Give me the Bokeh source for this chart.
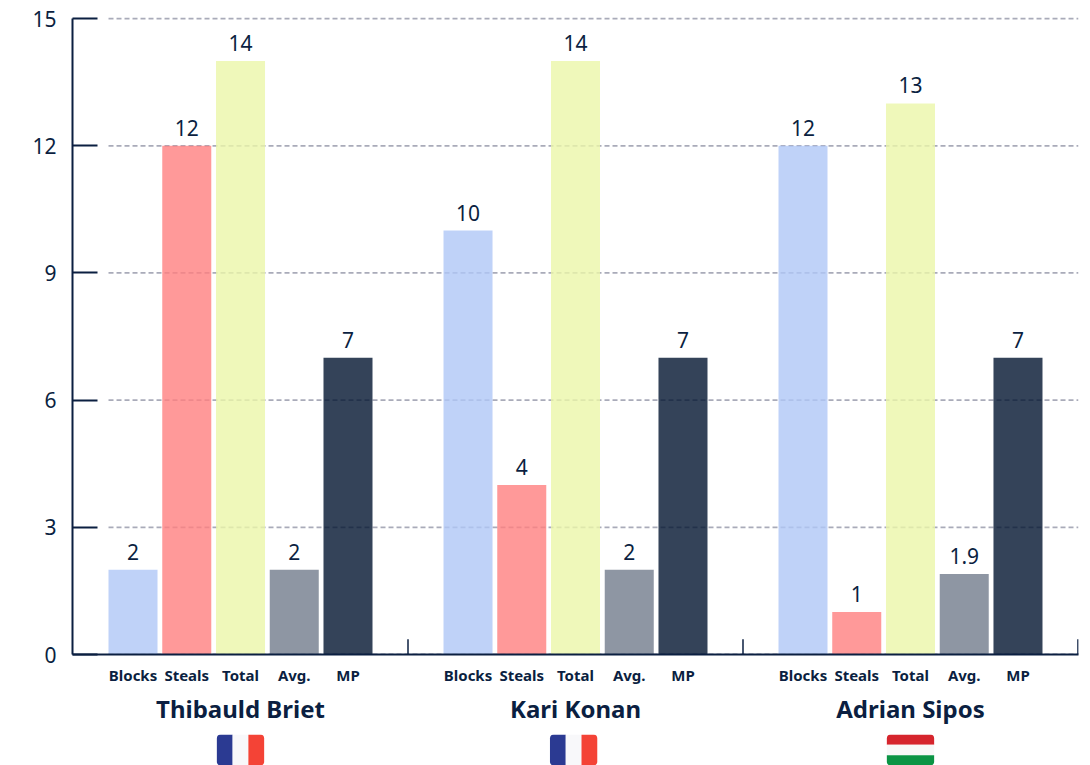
from bokeh.plotting import figure
from bokeh.models import FactorRange, ColumnDataSource
from bokeh.layouts import column
from bokeh.core.properties import value
from bokeh.embed import file_html
from bokeh.resources import INLINE

players = ["Thibauld Briet", "Kari Konan", "Adrian Sipos"]
metrics = ["Blocks", "Steals", "Total", "Avg.", "MP"]
blocks = [2, 10, 12]
steals = [12, 4, 1]
total = [14, 14, 13]
avg = [2, 2, 1.9]
mp = [7, 7, 7]
y_ticks = [0, 3, 6, 9, 12, 15]
metric_colors = ["#afc7f6", "#ff8080", "#ebf6a9", "#727c8c", "#011430"]

INK = "#0b1f41"
FONT = "Noto Sans"

series = [blocks, steals, total, avg, mp]
x, top, color, label = [], [], [], []
for pi, pl in enumerate(players):
    for mi, m in enumerate(metrics):
        x.append((pl, m))
        top.append(series[mi][pi])
        color.append(metric_colors[mi])
        label.append(str(series[mi][pi]))
src = ColumnDataSource(dict(x=x, top=top, color=color, label=label))

GP = 1.233
xr = FactorRange(*x, factor_padding=0, group_padding=GP, subgroup_padding=0,
                 range_padding=0.626, range_padding_units="absolute")
p = figure(x_range=xr, y_range=(0, 15.05), width=1090, height=734,
           output_backend="svg", toolbar_location=None,
           min_border_left=72, min_border_right=12, min_border_top=16, min_border_bottom=80)
p.outline_line_color = None
p.xgrid.visible = False
p.ygrid.visible = False

# dashed rules run from the first bar to the right edge
rule_x0 = [(players[0], metrics[0], -0.456)] * len(y_ticks)
rule_x1 = [(players[-1], metrics[-1], 1.126)] * len(y_ticks)
p.segment(x0=rule_x0, x1=rule_x1, y0=y_ticks, y1=y_ticks,
          line_color="#a9abb9", line_width=1.8, line_dash="5 3")

p.vbar(x="x", top="top", width=0.912, bottom=0, source=src,
       fill_color="color", fill_alpha=0.8, line_color=None)
p.text(x="x", y="top", text="label", source=src, text_align="center",
       text_baseline="middle", y_offset=-18, text_color=INK,
       text_font=value(FONT), text_font_size="21px")

# upward ticks at the group edges
sep_x = [(pl, metrics[-1], 0.5 + GP / 2) for pl in players[:2]] + \
        [(players[-1], metrics[-1], 1.116)]
p.segment(x0=sep_x, x1=sep_x, y0=[0] * 3, y1=[0.36] * 3,
          line_color=INK, line_width=1.5)

ya = p.yaxis[0]
ya.ticker = y_ticks
ya.bounds = (0, 15)
ya.axis_line_color = INK
ya.axis_line_width = 2
ya.major_tick_line_color = INK
ya.major_tick_line_width = 2
ya.major_tick_in = 25
ya.major_tick_out = 0
ya.minor_tick_line_color = None
ya.major_label_standoff = 16
ya.major_label_text_font = FONT
ya.major_label_text_font_size = "21px"
ya.major_label_text_color = INK

xa = p.xaxis[0]
xa.axis_line_color = INK
xa.axis_line_width = 2
xa.major_tick_line_color = None
xa.minor_tick_line_color = None
xa.separator_line_color = None
xa.major_label_standoff = 4
xa.major_label_orientation = "horizontal"
xa.major_label_text_font = FONT
xa.major_label_text_font_size = "15px"
xa.major_label_text_font_style = "bold"
xa.major_label_text_color = INK
xa.group_text_font = FONT
xa.group_text_font_size = "24px"
xa.group_text_font_style = "bold"
xa.group_text_color = INK

# flags in a strip below, sharing the x range so they sit under each group
f = figure(x_range=xr, y_range=(0, 3), width=1090, height=31,
           output_backend="svg", toolbar_location=None,
           min_border_left=72, min_border_right=12, min_border_top=0, min_border_bottom=0)
f.outline_line_color = None
f.grid.visible = False
f.axis.visible = False

FW = 0.88
R = 4
def flag_vertical(pl, colors, shift=0.0):
    w = FW / 3
    for i, c in enumerate(colors):
        radius = (R, 0, 0, R) if i == 0 else (0, R, R, 0) if i == 2 else 0
        f.quad(left=[(pl, "Total", shift - FW / 2 + i * w)], right=[(pl, "Total", shift - FW / 2 + (i + 1) * w)],
               top=[3], bottom=[0], fill_color=c, line_color=None, border_radius=radius)

def flag_horizontal(pl, colors):
    for i, c in enumerate(colors):
        radius = (R, R, 0, 0) if i == 0 else (0, 0, R, R) if i == 2 else 0
        f.quad(left=[(pl, "Total", -FW / 2)], right=[(pl, "Total", FW / 2)],
               top=[3 - i], bottom=[2 - i], fill_color=c, line_color=None, border_radius=radius)

flag_vertical(players[0], ["#2b3a92", "#f8f8fa", "#f44336"])
flag_vertical(players[1], ["#2b3a92", "#f8f8fa", "#f44336"], shift=-0.035)
flag_horizontal(players[2], ["#d6252d", "#f8f8f8", "#0b9444"])

layout = column(p, f, spacing=0)
open("out.html", "w").write(file_html(layout, INLINE))
